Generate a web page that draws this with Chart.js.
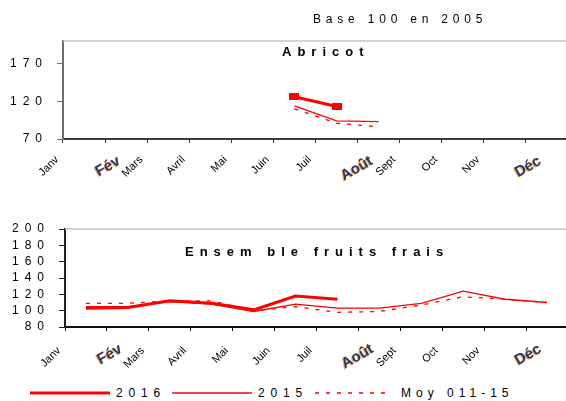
<!DOCTYPE html>
<html>
<head>
<meta charset="utf-8">
<script src="https://cdn.jsdelivr.net/npm/chart.js@4/dist/chart.umd.min.js"></script>
<style>
  html, body { margin: 0; padding: 0; background: #fff; width: 566px; height: 401px; overflow: hidden; }
  body { position: relative; font-family: "Liberation Sans", Arial, sans-serif; color: #000; }
  canvas { position: absolute; left: 0; }
  #chartAbricot { top: 0; }
  #chartFruits { top: 200px; }
  .txt { position: absolute; white-space: nowrap; font-size: 12px; line-height: 14px; }
  .titre { font-weight: bold; font-size: 13px; line-height: 15px; letter-spacing: 6px; }
  #legende { position: absolute; left: 0; top: 385px; }
</style>
</head>
<body>
<canvas id="chartAbricot" width="580" height="200"></canvas>
<canvas id="chartFruits" width="580" height="180"></canvas>

<div class="txt" style="left:313px; top:12px; letter-spacing:4.8px;">Base 100 en 2005</div>
<div class="txt titre" style="left:282px; top:44px;">Abricot</div>
<div class="txt titre" style="left:185px; top:244px;">Ensem ble fruits frais</div>

<svg id="legende" width="566" height="16">
  <line x1="30" y1="8" x2="110" y2="8" stroke="#ff0000" stroke-width="3"/>
  <line x1="172" y1="8" x2="252" y2="8" stroke="#ff0000" stroke-width="1.3"/>
  <line x1="315" y1="8" x2="392" y2="8" stroke="#ff0000" stroke-width="1.3" stroke-dasharray="4 7"/>
</svg>
<div class="txt" style="left:116px; top:386px; letter-spacing:5.8px;">2016</div>
<div class="txt" style="left:258px; top:386px; letter-spacing:5.8px;">2015</div>
<div class="txt" style="left:401px; top:386px; letter-spacing:5px;">Moy 011-15</div>

<script>
// mois (axe des x)
const mois = ['Janv', 'Fév', 'Mars', 'Avril', 'Mai', 'Juin', 'Juil', 'Août', 'Sept', 'Oct', 'Nov', 'Déc'];

// Abricot
const abricot2016 = [null, null, null, null, null, 126, 113, null, null, null, null, null];
const abricot2015 = [null, null, null, null, null, 114, 94, 93, null, null, null, null];
const abricotMoy  = [null, null, null, null, null, 110, 91, 86, null, null, null, null];
const ticksAbricot = [70, 120, 170];

// Ensemble fruits frais
const fruits2016 = [103, 104, 112, 109, 101, 118, 114, null, null, null, null, null];
const fruits2015 = [105, 105, 111, 108, 99, 108, 103, 103, 109, 124, 114, 110];
const fruitsMoy  = [109, 109, 112, 112, 100, 105, 98, 99, 107, 117, 114, 110];
const ticksFruits = [80, 100, 120, 140, 160, 180, 200];

const rouge = '#ff0000';
const flous = ['Fév', 'Août', 'Déc']; // these three come out big and blurry in the original

// small flat rectangle used as marker for abricot 2016
const carre = document.createElement('canvas');
carre.width = 10;
carre.height = 7;
carre.getContext('2d').fillStyle = rouge;
carre.getContext('2d').fillRect(0, 0, 10, 7);

// light grey line along the top of the plot area
const cadreHaut = {
  id: 'cadreHaut',
  afterDraw(chart) {
    const ctx = chart.ctx, a = chart.chartArea;
    ctx.save();
    ctx.strokeStyle = '#c4c4c4';
    ctx.lineWidth = 1.5;
    ctx.beginPath();
    ctx.moveTo(a.left, a.top);
    ctx.lineTo(a.right + 20, a.top);
    ctx.stroke();
    ctx.restore();
  }
};

// slanted month labels, placed from the x scale
const etiquettesX = {
  id: 'etiquettesX',
  afterDraw(chart, args, opts) {
    const sx = chart.scales.x, ctx = chart.ctx;
    mois.forEach(function (m, i) {
      const flou = flous.includes(m);
      const px = sx.getPixelForValue(i) + (flou ? -7 : -27);
      const py = sx.top + (flou ? opts.dyFlou : opts.dy);
      ctx.save();
      ctx.translate(px, py);
      ctx.rotate(flou ? -Math.PI / 6 : -Math.PI / 4);
      ctx.textAlign = 'right';
      ctx.textBaseline = 'middle';
      if (flou) {
        ctx.font = 'bold 15px "Liberation Sans"';
        ctx.fillStyle = '#2b3468';
        ctx.shadowColor = 'rgba(245,165,60,0.85)';
        ctx.shadowOffsetX = -1;
        ctx.shadowOffsetY = 1;
      } else {
        ctx.font = '11px "Liberation Sans"';
        ctx.fillStyle = '#000';
      }
      ctx.fillText(m, 0, 0);
      ctx.restore();
    });
  }
};

function espace(v) {
  return String(v).split('').join('\u2002');
}

function makeOptions(cfg) {
  return {
    responsive: false,
    animation: false,
    layout: { padding: { top: cfg.top, right: 12, left: 0, bottom: 0 } },
    plugins: {
      legend: { display: false },
      tooltip: { enabled: false },
      etiquettesX: { dy: cfg.dy, dyFlou: cfg.dyFlou }
    },
    scales: {
      x: {
        type: 'category',
        offset: true,
        afterFit: function (s) { s.height = cfg.xHeight; },
        grid: { offset: true, drawOnChartArea: false, tickLength: 4, color: cfg.xColor },
        border: { color: cfg.xColor, width: 2 },
        ticks: { display: false }
      },
      y: {
        min: cfg.min,
        max: 200,
        afterFit: function (s) { s.width = cfg.yWidth; },
        afterBuildTicks: function (s) { s.ticks = cfg.ticks.map(v => ({ value: v })); },
        grid: { drawOnChartArea: false, tickLength: 6, color: cfg.yColor },
        border: { color: cfg.yColor, width: 2 },
        ticks: {
          autoSkip: false,
          padding: 15,
          color: '#000',
          font: { family: 'Liberation Sans', size: 12 },
          callback: espace
        }
      }
    }
  };
}

new Chart(document.getElementById('chartAbricot').getContext('2d'), {
  type: 'line',
  data: {
    labels: mois,
    datasets: [
      { label: 'Moy 011-15', data: abricotMoy, borderColor: rouge, borderWidth: 1.3, borderDash: [4, 7], pointRadius: 0, tension: 0 },
      { label: '2015', data: abricot2015, borderColor: rouge, borderWidth: 1.3, pointRadius: 0, tension: 0 },
      { label: '2016', data: abricot2016, borderColor: rouge, borderWidth: 3, pointStyle: carre, pointRadius: 5, tension: 0 }
    ]
  },
  options: makeOptions({ top: 41, xHeight: 61, yWidth: 63, min: 70, ticks: ticksAbricot,
    xColor: '#3a3a3a', yColor: '#6e6e6e', dy: 19, dyFlou: 21 }),
  plugins: [cadreHaut, etiquettesX]
});

new Chart(document.getElementById('chartFruits').getContext('2d'), {
  type: 'line',
  data: {
    labels: mois,
    datasets: [
      { label: 'Moy 011-15', data: fruitsMoy, borderColor: rouge, borderWidth: 1.3, borderDash: [4, 7], pointRadius: 0, tension: 0 },
      { label: '2015', data: fruits2015, borderColor: rouge, borderWidth: 1.3, pointRadius: 0, tension: 0 },
      { label: '2016', data: fruits2016, borderColor: rouge, borderWidth: 3, pointRadius: 0, tension: 0 }
    ]
  },
  options: makeOptions({ top: 29, xHeight: 53, yWidth: 65, min: 80, ticks: ticksFruits,
    xColor: '#111', yColor: '#222', dy: 22, dyFlou: 21 }),
  plugins: [cadreHaut, etiquettesX]
});
</script>
</body>
</html>
